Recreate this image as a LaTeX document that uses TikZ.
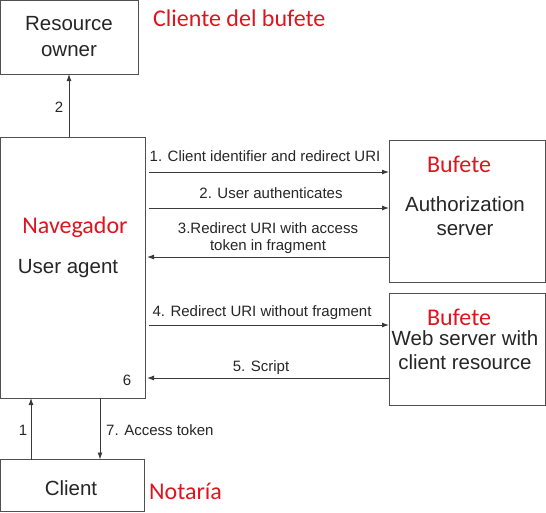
\documentclass[tikz,border=0pt]{standalone}
\usepackage{fontspec}
\setmainfont{Liberation Sans}
\newfontfamily\redfont{Carlito}
\usetikzlibrary{arrows.meta}
\definecolor{txt}{HTML}{262626}
\definecolor{redlab}{HTML}{E0141E}
\definecolor{boxline}{HTML}{505050}
\definecolor{lineclr}{HTML}{3A3A3A}
\begin{document}
\begin{tikzpicture}[x=1pt,y=-1pt,
  box/.style={draw=boxline,line width=0.9pt,inner sep=0pt,outer sep=0pt,align=center},
  big/.style={font=\fontsize{20.5}{24.5}\selectfont,text=txt,align=center,inner sep=0pt},
  small/.style={font=\fontsize{15}{17}\selectfont,text=txt,align=center,inner sep=0pt},
  redl/.style={font=\redfont\fontsize{24}{28}\selectfont,text=redlab,inner sep=0pt},
  arr/.style={draw=lineclr,line width=0.9pt,-{Latex[length=7pt,width=5pt]}}]
\useasboundingbox (0,0) rectangle (546,512);
\node[box,minimum width=137.5pt,minimum height=73.5pt] (ro) at (69.25,37.25) {};
\node[big,font=\fontsize{20.5}{26}\selectfont] (rotext) at (69,37) {Resource\\owner};
\node[box,minimum width=144.5pt,minimum height=261pt] (ua) at (72.75,267.5) {};
\node[box,minimum width=156pt,minimum height=142pt] (as) at (467,211) {};
\node[box,minimum width=156pt,minimum height=112pt] (ws) at (467,349) {};
\node[box,minimum width=143.5pt,minimum height=52pt] (cl) at (72.25,485.5) {};
\node[big] (clt) at (71,488) {Client};
\node[redl,anchor=west] (rcl) at (153,18) {Cliente del bufete};
\node[redl] (nav) at (75,227) {Navegador};
\node[big] (uat) at (68,269) {User agent};
\node[small] (six) at (127,380) {6};
\node[redl] (buf1) at (459,164) {Bufete};
\node[big] (ast) at (465,216) {Authorization\\server};
\node[redl] (buf2) at (459,317) {Bufete};
\node[big] (wst) at (465,350) {Web server with\\client resource};
\node[redl,anchor=west] (nota) at (149,491) {Notaría};
% arrows
\draw[arr] ([xshift=68.5pt]ua.north west) -- ([xshift=68.5pt]ro.south west);
\node[small] (l2) at (59,107) {2};
\draw[arr] ([xshift=30.5pt]cl.north west) -- ([xshift=30.5pt]ua.south west);
\node[small] (l1) at (23,430) {1};
\draw[arr] ([xshift=99.5pt]ua.south west) -- ([xshift=99.5pt]cl.north west);
\node[small,anchor=west] (l7) at (106,430) {7. Access token};
\draw[arr,shorten <=4pt] (ua.east |- 0,172) -- (as.west |- 0,172);
\node[small] (a1) at (265,156) {1. Client identifier and redirect URI};
\draw[arr,shorten <=4pt] (ua.east |- 0,208) -- (as.west |- 0,208);
\node[small] (a2) at (271,193) {2. User authenticates};
\draw[arr,shorten >=2pt] (as.west |- 0,257) -- (ua.east |- 0,257);
\node[small] (a3) at (268,238.5) {3.Redirect URI with access\\token in fragment};
\draw[arr,shorten <=4pt] (ua.east |- 0,325) -- (ws.west |- 0,325);
\node[small] (a4) at (262,313) {4. Redirect URI without fragment};
\draw[arr,shorten >=2pt] (ws.west |- 0,378) -- (ua.east |- 0,378);
\node[small] (a5) at (261,368) {5. Script};
\end{tikzpicture}
\end{document}
